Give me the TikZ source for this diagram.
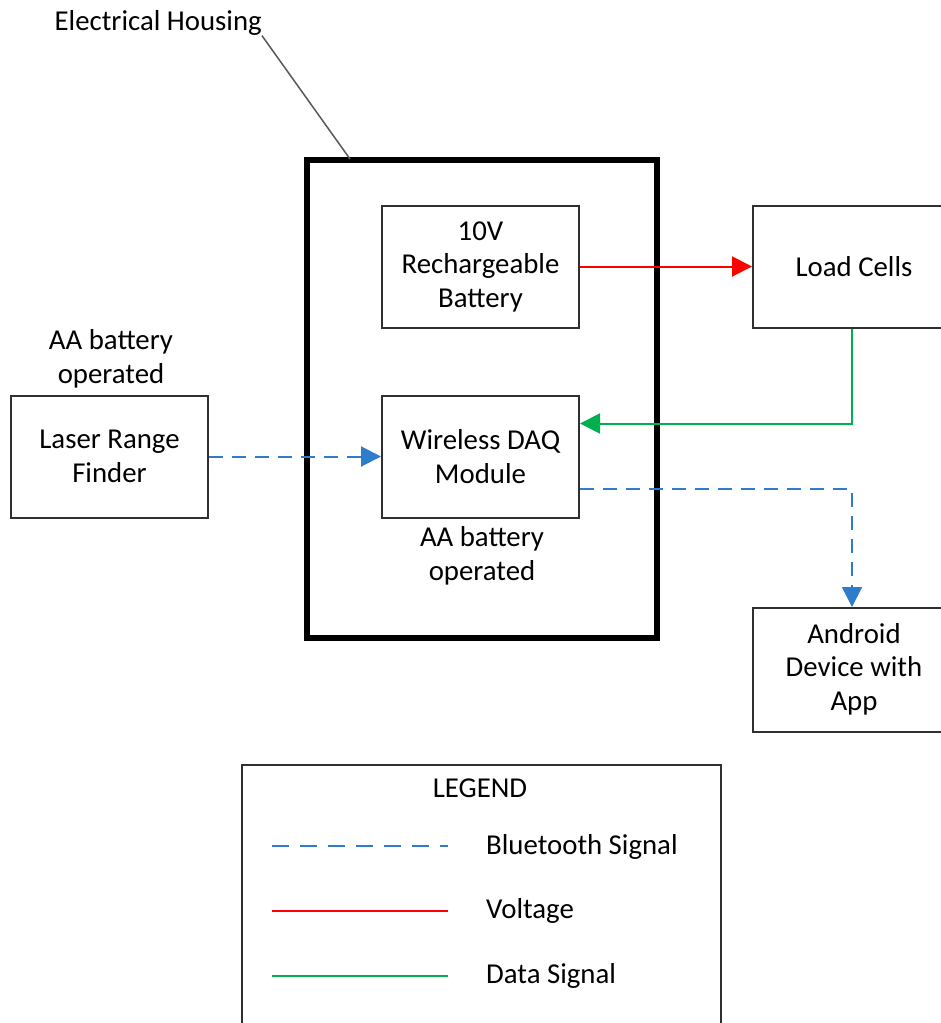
\documentclass[tikz,border=0pt]{standalone}
\usepackage{fontspec}
\setmainfont{Carlito}
\usetikzlibrary{arrows.meta}
\definecolor{btblue}{HTML}{2E7CCB}
\definecolor{voltred}{HTML}{FF0000}
\definecolor{datagreen}{HTML}{00B050}
\definecolor{boxgray}{HTML}{303030}
\begin{document}
\begin{tikzpicture}[x=1pt,y=-1pt,
  font=\fontsize{28.8}{33.5}\selectfont,
  block/.style={draw=boxgray, line width=2pt, minimum width=197pt,
    minimum height=122pt, align=center, inner sep=0pt},
  plain/.style={align=center, inner sep=0pt},
  tip/.style={-{Triangle[length=20pt,width=20pt]}},
  bluetooth/.style={draw=btblue, line width=2pt, dash pattern=on 14pt off 9pt},
  voltage/.style={draw=voltred, line width=2pt},
  datasig/.style={draw=datagreen, line width=2pt},
]
\clip (0,0) rectangle (941,1023);
\fill[white] (0,0) rectangle (941,1023);

% housing and its label
\node[draw=black, line width=6pt, minimum width=350pt, minimum height=478pt,
  inner sep=0pt] (housing) at (482,399) {};
\node[plain, anchor=east] (ehlabel) at (262,23) {Electrical Housing};
\coordinate (leadend) at (350,159);
\draw[gray!70!black, line width=1.5pt] (ehlabel.south east) coordinate (leadstart);
\draw[gray!70!black, line width=1.5pt] (leadstart) -- (leadend);

% blocks
\node[block] (bat) at (480.5,266.5) {10V\\Rechargeable\\Battery};
\node[block] (daq) at (480.5,456.5) {Wireless DAQ\\Module};
\node[block] (laser) at (109.5,456.5) {Laser Range\\Finder};
\node[block, minimum width=198pt] (load) at (852,266.5) {\hspace*{4pt}Load Cells};
\node[block, minimum width=198pt, minimum height=124pt] (android) at (852,670)
  {\hspace*{4pt}\begin{tabular}{@{}c@{}}Android\\Device with\\App\end{tabular}};

% power notes
\node[plain] (laserpwr) at (111,359) {AA battery\\operated};
\node[plain] (daqpwr) at (482,556) {AA battery\\operated};

% connectors
\draw[voltage, tip, voltred] (bat.east) -- (load.west);
\draw[datasig, tip, datagreen] (load.south) |- ([yshift=33pt]daq.east);
\draw[bluetooth, tip, btblue] (laser.east) -- (daq.west);
\draw[bluetooth, tip, btblue] ([yshift=-32pt]daq.east) -| (android.north);

% legend
\node[draw=boxgray, line width=2pt, minimum width=479pt, minimum height=280pt,
  inner sep=0pt] (legend) at (481.5,905) {};
\node[plain] (legtitle) at (480,788) {LEGEND};
\coordinate (bta) at (272,846); \coordinate (btb) at (448,846);
\coordinate (vta) at (272,911); \coordinate (vtb) at (448,911);
\coordinate (dsa) at (272,976); \coordinate (dsb) at (448,976);
\draw[bluetooth, dash pattern=on 17pt off 11pt] (bta) -- (btb);
\draw[voltage] (vta) -- (vtb);
\draw[datasig] (dsa) -- (dsb);
\node[plain, anchor=west] (btlab) at (486,847) {Bluetooth Signal};
\node[plain, anchor=west] (vtlab) at (486,911) {Voltage};
\node[plain, anchor=west] (dslab) at (486,976) {Data Signal};
\end{tikzpicture}
\end{document}
